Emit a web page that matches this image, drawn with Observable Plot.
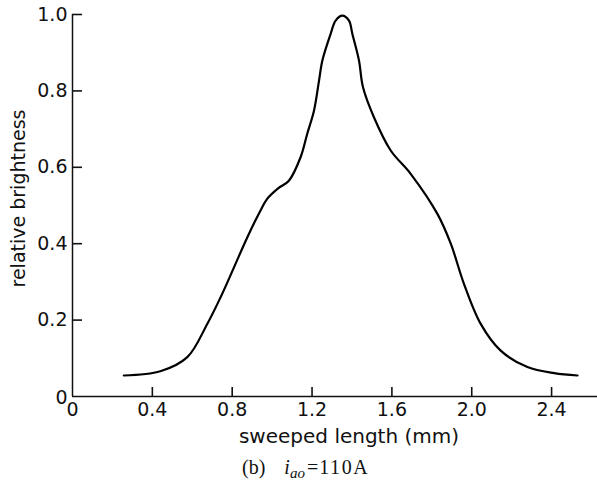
<!DOCTYPE html>
<html>
<head>
<meta charset="utf-8">
<script src="https://cdn.jsdelivr.net/npm/d3@7"></script>
<script src="https://cdn.jsdelivr.net/npm/@observablehq/plot@0.6"></script>
<style>
  html, body { margin: 0; padding: 0; background: #fff; }
  #chart svg { display: block; overflow: visible; }
  #caption { display: block; margin: 5px 0 0 0; padding-left: 242px; height: 24px; line-height: 20px; font-family: "Liberation Serif", "DejaVu Serif", serif; font-size: 20px; color: #111; white-space: pre; }
  #caption sub { font-size: 15px; vertical-align: -4px; line-height: 0; }
  #caption .sym { margin-left: 19px; }
  #caption .eq { margin-left: 2px; }
  #caption .num { letter-spacing: 1.6px; margin-left: 1px; }
</style>
</head>
<body>
<div id="chart"></div>
<div id="caption"><span>(b)</span><span class="sym"><i>i</i><sub><i>ao</i></sub></span><span class="eq">=</span><span class="num">110A</span></div>
<script>
const lengthMm = [0.257, 0.44, 0.575, 0.675, 0.742, 0.809, 0.876, 0.942, 0.976, 1.03, 1.084, 1.143, 1.176, 1.21, 1.235, 1.252, 1.293, 1.318, 1.352, 1.385, 1.402, 1.435, 1.455, 1.51, 1.594, 1.694, 1.828, 1.895, 1.961, 2.045, 2.145, 2.279, 2.413, 2.53];
const brightness = [0.055, 0.066, 0.103, 0.19, 0.26, 0.338, 0.417, 0.487, 0.518, 0.545, 0.565, 0.627, 0.688, 0.749, 0.827, 0.88, 0.949, 0.984, 0.997, 0.984, 0.949, 0.88, 0.81, 0.731, 0.644, 0.583, 0.478, 0.40, 0.295, 0.19, 0.12, 0.077, 0.061, 0.055];
const xTicks = [0, 0.4, 0.8, 1.2, 1.6, 2.0, 2.4];
const xTickLabels = ["0", "0.4", "0.8", "1.2", "1.6", "2.0", "2.4"];
const yTicks = [0, 0.2, 0.4, 0.6, 0.8, 1.0];
const yTickLabels = ["0", "0.2", "0.4", "0.6", "0.8", "1.0"];
const xLabel = "sweeped length (mm)";
const yLabel = "relative brightness";

const data = lengthMm.map((x, i) => ({x, y: brightness[i]}));
const font = "DejaVu Sans, Verdana, sans-serif";
const ink = "#111";

const chart = Plot.plot({
  width: 597,
  height: 452,
  marginLeft: 72,
  marginRight: 0,
  marginTop: 14,
  marginBottom: 56,
  style: {fontFamily: font, fontSize: "19px", color: ink, background: "#fff"},
  x: {domain: [0, 2.63]},
  y: {domain: [0, 1]},
  marks: [
    // tick labels
    Plot.axisX(xTicks, {tickFormat: d => xTickLabels[xTicks.indexOf(d)], tickSize: 0, tickPadding: 6, label: null, fontSize: 19, fill: ink}),
    Plot.axisY(yTicks.filter(d => d > 0), {tickFormat: d => yTickLabels[yTicks.indexOf(d)], tickSize: 0, tickPadding: 5, label: null, fontSize: 19, fill: ink}),
    Plot.text([yTickLabels[0]], {text: d => d, frameAnchor: "bottom-left", dx: -5, dy: 1, textAnchor: "end", lineAnchor: "middle", fontSize: 19, fill: ink}),
    // inward tick marks (axis ticks shifted inside the frame)
    Plot.axisX(xTicks.filter(d => d > 0), {tickSize: 9, dy: -9, tickFormat: () => "", label: null, stroke: ink, strokeWidth: 1.6}),
    Plot.axisY(yTicks.filter(d => d > 0), {tickSize: 10, dx: 10, tickFormat: () => "", label: null, stroke: ink, strokeWidth: 1.6}),
    Plot.ruleY([0], {stroke: ink, strokeWidth: 1.5}),
    Plot.ruleX([0], {stroke: ink, strokeWidth: 1.5}),
    Plot.line(data, {x: "x", y: "y", curve: "catmull-rom", stroke: "#000", strokeWidth: 2.2}),
    Plot.text([yLabel], {text: d => d, frameAnchor: "left", textAnchor: "middle", lineAnchor: "middle", dx: -54, dy: -7, rotate: -90, fontSize: 19, fill: ink}),
    Plot.text([xLabel], {text: d => d, frameAnchor: "bottom", textAnchor: "middle", lineAnchor: "middle", dx: 14, dy: 40, fontSize: 20, fill: ink})
  ]
});
document.getElementById("chart").appendChild(chart);
</script>
</body>
</html>
